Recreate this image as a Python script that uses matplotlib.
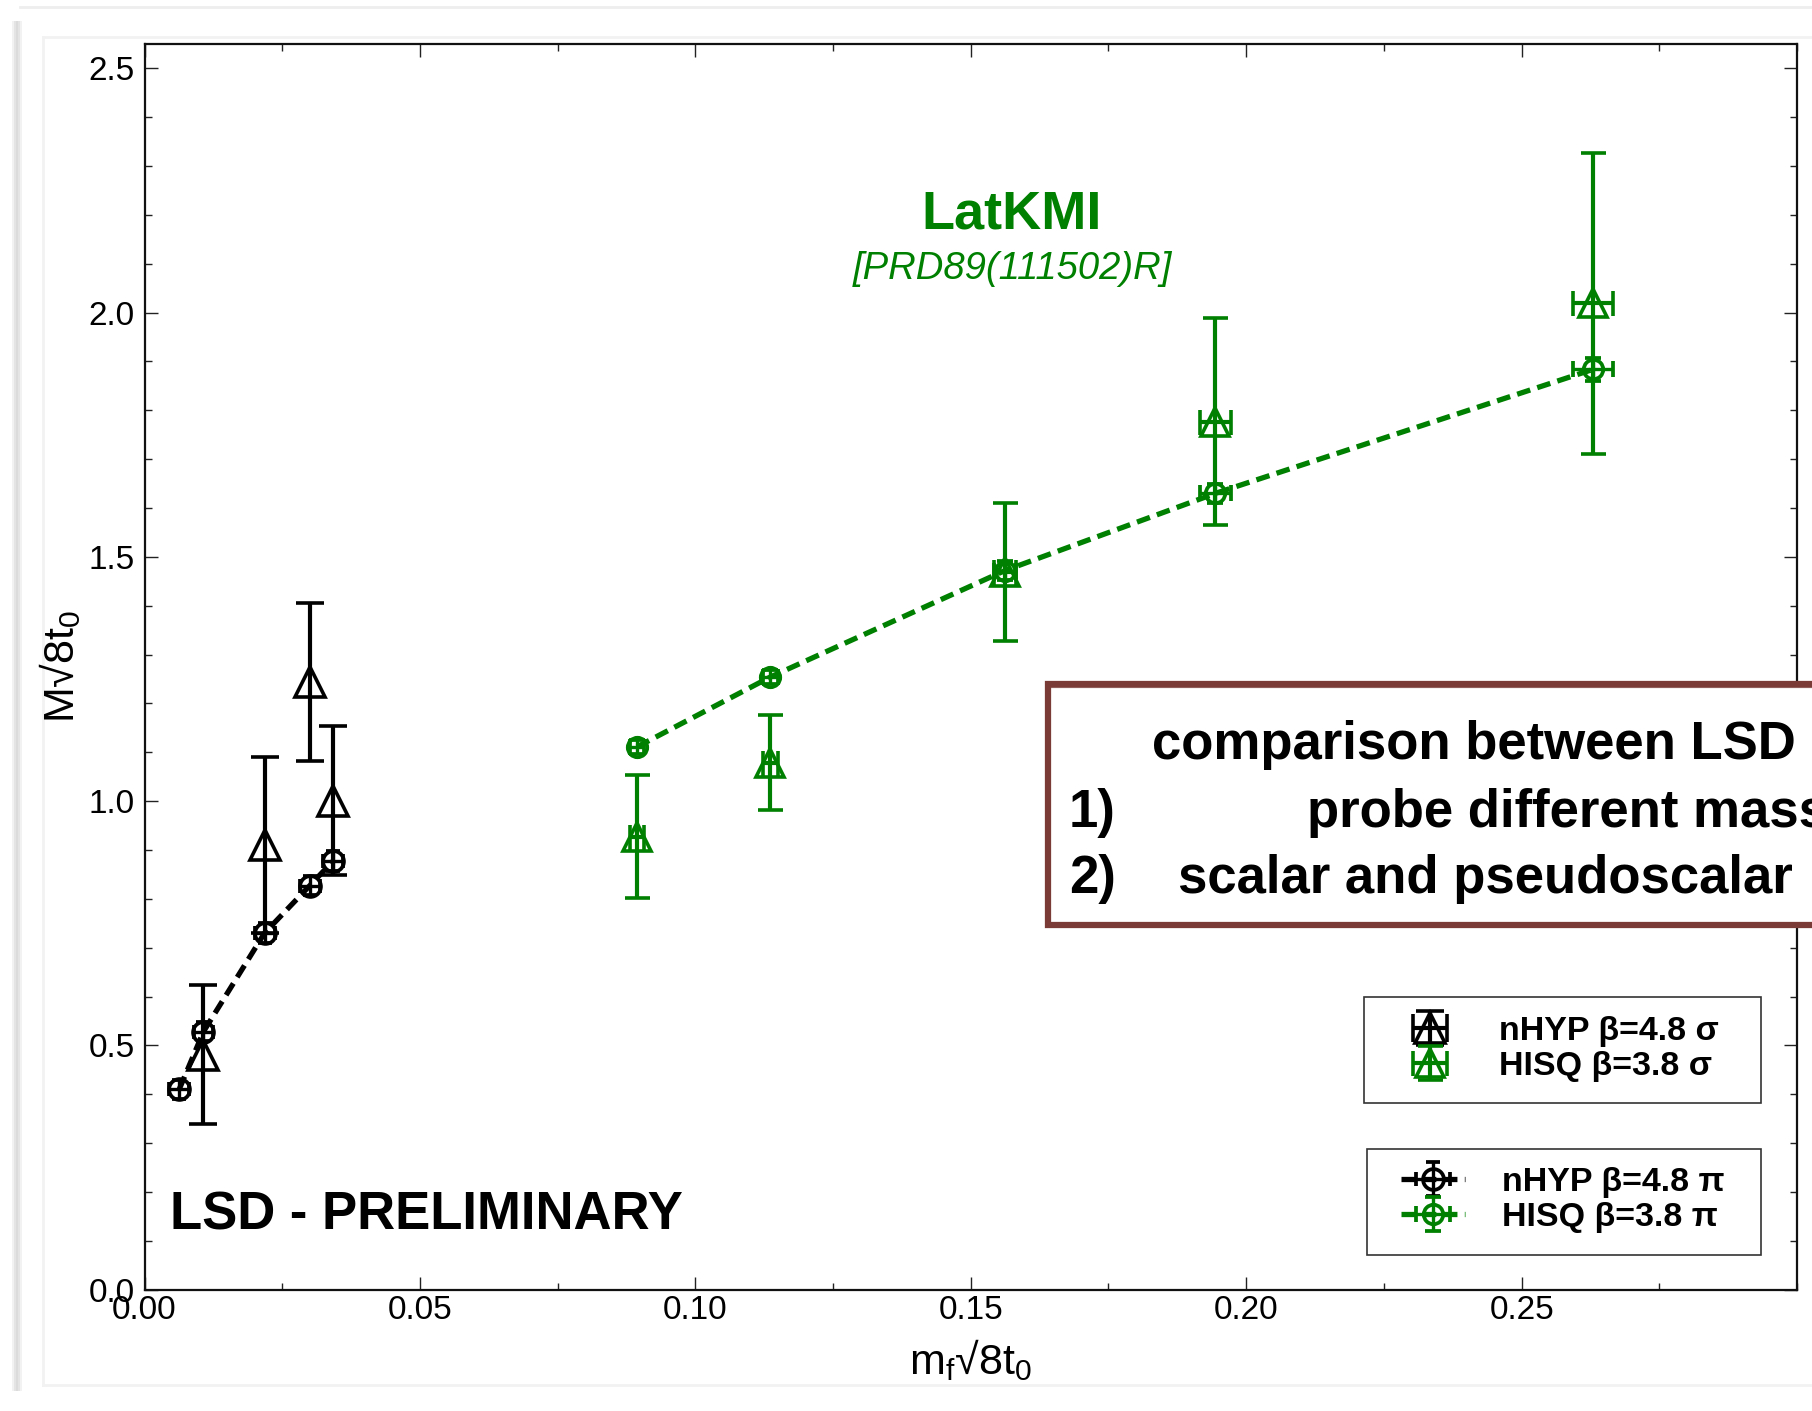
import matplotlib
matplotlib.use('Agg')
import matplotlib.pyplot as plt
from matplotlib.patches import Rectangle
from matplotlib.ticker import MultipleLocator, FixedLocator
from matplotlib.lines import Line2D

plt.rcParams['font.family'] = ['Liberation Sans', 'DejaVu Sans']
plt.rcParams['mathtext.fontset'] = 'custom'
plt.rcParams['mathtext.rm'] = 'Liberation Sans'
plt.rcParams['mathtext.it'] = 'Liberation Sans:italic'
plt.rcParams['mathtext.bf'] = 'Liberation Sans:bold'

# ---------------- data ----------------
nhyp_pi_x = [0.0063, 0.0107, 0.0218, 0.0300, 0.0342]
nhyp_pi_y = [0.410, 0.528, 0.730, 0.827, 0.877]
nhyp_pi_yerr = [0.020, 0.020, 0.020, 0.020, 0.020]
nhyp_pi_xerr = [0.0018, 0.0018, 0.0018, 0.0018, 0.0018]

nhyp_sig_x = [0.0107, 0.0218, 0.0300, 0.0342]
nhyp_sig_y = [0.481, 0.910, 1.244, 1.001]
nhyp_sig_yerr = [0.142, 0.180, 0.161, 0.153]
nhyp_sig_xerr = [0.0, 0.0, 0.0, 0.0]

hisq_pi_x = [0.0894, 0.1136, 0.1562, 0.1944, 0.2630]
hisq_pi_y = [1.111, 1.254, 1.472, 1.630, 1.884]
hisq_pi_yerr = [0.014, 0.014, 0.020, 0.020, 0.024]
hisq_pi_xerr = [0.0012, 0.0014, 0.0020, 0.0028, 0.0036]

hisq_sig_x = [0.0894, 0.1136, 0.1562, 0.1944, 0.2630]
hisq_sig_y = [0.927, 1.079, 1.469, 1.777, 2.019]
hisq_sig_yerr = [0.126, 0.098, 0.142, 0.211, 0.308]
hisq_sig_xerr = [0.0012, 0.0014, 0.0020, 0.0028, 0.0036]

legend_sigma_labels = ['nHYP β=4.8 σ', 'HISQ β=3.8 σ']
legend_pi_labels = ['nHYP β=4.8 π', 'HISQ β=3.8 π']

xticks = [0.00, 0.05, 0.10, 0.15, 0.20, 0.25]
xtick_labels = ['0.00', '0.05', '0.10', '0.15', '0.20', '0.25']
yticks = [0.0, 0.5, 1.0, 1.5, 2.0, 2.5]
ytick_labels = ['0.0', '0.5', '1.0', '1.5', '2.0', '2.5']

box_lines = ['comparison between LSD', 'probe different mass', 'scalar and pseudoscalar']

BLACK = '#000000'
GREEN = '#008000'
BROWN = '#7a3b36'

W, H = 1812, 1411
fig = plt.figure(figsize=(W / 100, H / 100), dpi=100)
fig.patch.set_facecolor('white')

# faint slide-screenshot decorations
for i, a in enumerate([0.10, 0.22, 0.30, 0.22, 0.10]):
    fig.patches.append(Rectangle(((12 + i * 2) / W, 20 / H), 2 / W, 1370 / H,
                                 transform=fig.transFigure, facecolor='#888888',
                                 alpha=a, edgecolor='none', zorder=0))
fig.add_artist(Line2D([20 / W, 1.0], [1 - 7 / H, 1 - 7 / H], transform=fig.transFigure,
                      color='#eeeeee', lw=2, zorder=0))
fig.add_artist(Line2D([43 / W, 1.0], [1 - 37 / H, 1 - 37 / H], transform=fig.transFigure,
                      color='#f2f2f2', lw=2, zorder=0))
fig.add_artist(Line2D([43 / W, 43 / W], [1 - 37 / H, 1 - 1385 / H], transform=fig.transFigure,
                      color='#f2f2f2', lw=2, zorder=0))
fig.add_artist(Line2D([43 / W, 1.0], [1 - 1385 / H, 1 - 1385 / H], transform=fig.transFigure,
                      color='#f2f2f2', lw=2, zorder=0))

ax = fig.add_axes([0.07975, 0.08604, 0.9120, 0.8828])
ax.set_xlim(0, 0.30)
ax.set_ylim(0, 2.55)

dash = (0, (2.6, 1.4))

# nHYP pion (dashed)
bp = ax.errorbar(nhyp_pi_x, nhyp_pi_y, xerr=nhyp_pi_xerr, yerr=nhyp_pi_yerr,
                 color=BLACK, ls=dash, lw=3.8, marker='o', ms=15, mfc='none',
                 mec=BLACK, mew=2.7, ecolor=BLACK, elinewidth=2.4, capsize=5,
                 capthick=2.4)
# nHYP sigma
bs = ax.errorbar(nhyp_sig_x, nhyp_sig_y, xerr=nhyp_sig_xerr, yerr=nhyp_sig_yerr,
                 fmt='^', ms=21, mfc='none', mec=BLACK, mew=2.6, ecolor=BLACK,
                 elinewidth=3.0, capsize=10, capthick=3.0)
# HISQ pion (dashed)
gp = ax.errorbar(hisq_pi_x, hisq_pi_y, xerr=hisq_pi_xerr, yerr=hisq_pi_yerr,
                 color=GREEN, ls=dash, lw=3.8, marker='o', ms=14, mfc='none',
                 mec=GREEN, mew=2.7, ecolor=GREEN, elinewidth=2.4, capsize=6,
                 capthick=2.4)
# HISQ sigma
gs = ax.errorbar(hisq_sig_x, hisq_sig_y, xerr=hisq_sig_xerr, yerr=hisq_sig_yerr,
                 fmt='^', ms=20, mfc='none', mec=GREEN, mew=2.6, ecolor=GREEN,
                 elinewidth=3.0, capsize=9, capthick=3.0)

# ticks
ax.xaxis.set_major_locator(FixedLocator(xticks))
ax.set_xticklabels(xtick_labels)
ax.xaxis.set_minor_locator(MultipleLocator(0.025))
ax.yaxis.set_major_locator(FixedLocator(yticks))
ax.set_yticklabels(ytick_labels)
ax.yaxis.set_minor_locator(MultipleLocator(0.1))
ax.tick_params(which='both', direction='in', top=True, right=True, width=1.0,
               color='#222222')
ax.tick_params(which='major', length=9.5, labelsize=24)
ax.tick_params(which='minor', length=5)
ax.tick_params(axis='x', which='major', pad=4)
ax.tick_params(axis='y', which='major', pad=7)
for s in ax.spines.values():
    s.set_linewidth(1.6)
    s.set_color('#111111')

ax.set_xlabel(r'm$_\mathregular{f}$√8t$_\mathregular{0}$', fontsize=31, labelpad=8)
ax.set_ylabel(r'M√8t$_\mathregular{0}$', fontsize=31, labelpad=4)

# texts
ax.text(0.0154, 0.0482, 'LSD - PRELIMINARY', transform=ax.transAxes,
        fontsize=38, fontweight='bold', ha='left', va='baseline', color=BLACK)
ax.text(0.5244, 0.8516, 'LatKMI', transform=ax.transAxes, fontsize=39,
        fontweight='bold', ha='center', va='baseline', color=GREEN)
ax.text(0.5250, 0.8116, '[PRD89(111502)R]', transform=ax.transAxes, fontsize=27.5,
        style='italic', ha='center', va='baseline', color=GREEN)

# legends (frames drawn separately)
ax.add_patch(Rectangle((0.7380, 0.1498), 0.2400, 0.0853, transform=ax.transAxes,
                       facecolor='white', edgecolor='#333333', lw=1.2, zorder=4))
ax.add_patch(Rectangle((0.7396, 0.0278), 0.2384, 0.0851, transform=ax.transAxes,
                       facecolor='white', edgecolor='#333333', lw=1.2, zorder=4))

prop = dict(weight='bold', size=24.5)
leg1 = ax.legend([bs, gs], legend_sigma_labels, loc='center left',
                 bbox_to_anchor=(0.7584, 0.1932), frameon=False, prop=prop,
                 handlelength=1.9, handletextpad=1.08, labelspacing=0.11,
                 borderpad=0, borderaxespad=0)
leg1.set_zorder(5)
ax.add_artist(leg1)
leg2 = ax.legend([bp, gp], legend_pi_labels, loc='center left',
                 bbox_to_anchor=(0.7602, 0.0720), frameon=False, prop=prop,
                 handlelength=1.9, handletextpad=1.08, labelspacing=0.11,
                 borderpad=0, borderaxespad=0)
leg2.set_zorder(5)

# brown comment box (runs off the right edge, as in the original slide)
fig.patches.append(Rectangle((1048 / W, 1 - 925 / H), 0.5, (925 - 684) / H,
                             transform=fig.transFigure, facecolor='white',
                             edgecolor=BROWN, lw=4.5, zorder=10))
fig.add_artist(Line2D([1050 / W, 1.0], [1 - 686 / H, 1 - 686 / H], transform=fig.transFigure,
                      color=BROWN, lw=3, zorder=11, alpha=0.8))
fig.text(1152 / W, 1 - 759 / H, box_lines[0], fontsize=38, fontweight='bold',
         ha='left', va='baseline', zorder=12)
fig.text(1069 / W, 1 - 827 / H, '1)', fontsize=38, fontweight='bold',
         ha='left', va='baseline', zorder=12)
fig.text(1307 / W, 1 - 827 / H, box_lines[1], fontsize=38, fontweight='bold',
         ha='left', va='baseline', zorder=12)
fig.text(1069 / W, 1 - 893 / H, '2)', fontsize=38, fontweight='bold',
         ha='left', va='baseline', zorder=12)
fig.text(1178 / W, 1 - 893 / H, box_lines[2], fontsize=38, fontweight='bold',
         ha='left', va='baseline', zorder=12)

fig.savefig('out.png', dpi=100)
